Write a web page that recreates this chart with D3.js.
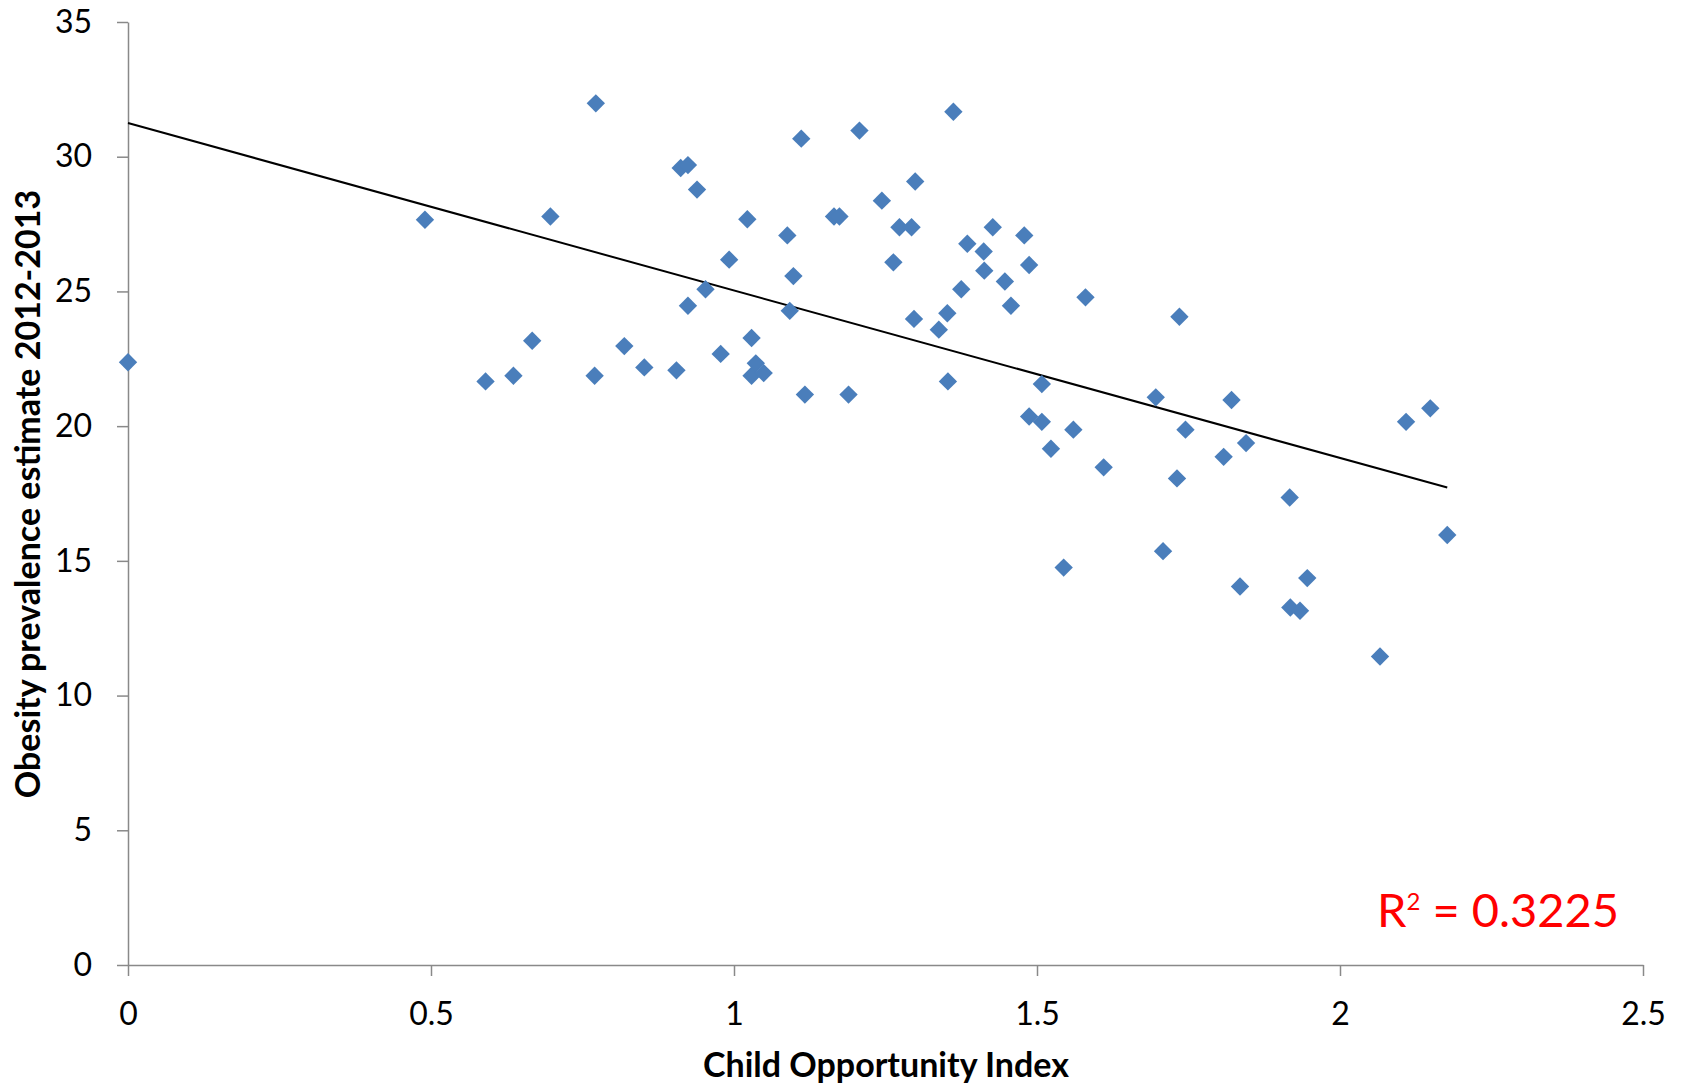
<!DOCTYPE html>
<html>
<head>
<meta charset="utf-8">
<script src="https://cdn.jsdelivr.net/npm/d3@7"></script>
<style>
  html, body { margin: 0; padding: 0; background: #ffffff; }
  svg { display: block; }
  .axis text { font-family: Lato, "Open Sans", sans-serif; font-size: 32px; fill: #000; }
  .axis path, .axis line { stroke: #898989; stroke-width: 1.5px; }
</style>
</head>
<body>
<svg id="chart" width="1685" height="1087"></svg>
<script>
// Child Opportunity Index per area
const opportunityIndex = [
  0.000, 0.490, 0.590, 0.636, 0.667, 0.697, 0.772, 0.770, 0.819, 0.852,
  0.905, 0.912, 0.924, 0.939, 0.924, 0.953, 0.978, 0.992, 1.022, 1.029,
  1.029, 1.036, 1.049, 1.088, 1.092, 1.098, 1.111, 1.117, 1.165, 1.174,
  1.189, 1.207, 1.244, 1.263, 1.273, 1.293, 1.297, 1.299, 1.338, 1.352,
  1.353, 1.362, 1.375, 1.385, 1.412, 1.413, 1.427, 1.447, 1.457, 1.479,
  1.487, 1.487, 1.508, 1.508, 1.523, 1.544, 1.560, 1.580, 1.610, 1.696,
  1.708, 1.731, 1.735, 1.745, 1.808, 1.821, 1.835, 1.845, 1.917, 1.918,
  1.934, 1.946, 2.066, 2.109, 2.149, 2.177
];

// Obesity prevalence estimate 2012-2013 (%) for the same areas
const obesityPrevalence = [
  22.37, 27.66, 21.66, 21.87, 23.17, 27.78, 31.98, 21.87, 22.97, 22.18,
  22.07, 29.58, 29.69, 28.78, 24.47, 25.08, 22.68, 26.18, 27.68, 23.27,
  21.87, 22.33, 21.97, 27.08, 24.28, 25.57, 30.67, 21.17, 27.78, 27.78,
  21.17, 30.97, 28.37, 26.08, 27.38, 27.38, 23.98, 29.08, 23.58, 24.19,
  21.66, 31.67, 25.08, 26.77, 26.48, 25.77, 27.38, 25.37, 24.47, 27.08,
  25.98, 20.36, 21.56, 20.16, 19.16, 14.75, 19.87, 24.78, 18.47, 21.07,
  15.36, 18.06, 24.06, 19.87, 18.86, 20.97, 14.05, 19.37, 17.35, 13.27,
  13.15, 14.36, 11.45, 20.16, 20.66, 15.96
];

// Linear trendline and its fit statistic
const trendIntercept = 31.25;
const trendSlope = -6.215;
const rSquared = "0.3225";

// Axis ticks
const xTicks = [0, 0.5, 1, 1.5, 2, 2.5];
const yTicks = [0, 5, 10, 15, 20, 25, 30, 35];

const xTitle = "Child Opportunity Index";
const yTitle = "Obesity prevalence estimate 2012-2013";

const svg = d3.select("#chart");
const font = "Lato, 'Open Sans', sans-serif";

const x = d3.scaleLinear().domain([0, 2.5]).range([128, 1643]);
const y = d3.scaleLinear().domain([0, 35]).range([965, 22]);

// Axes
svg.append("g")
  .attr("class", "axis")
  .attr("transform", `translate(0,${y(0)})`)
  .call(d3.axisBottom(x).tickValues(xTicks).tickFormat(d3.format("~g"))
    .tickSize(11).tickSizeOuter(0).tickPadding(26));

svg.append("g")
  .attr("class", "axis")
  .attr("transform", `translate(${x(0)},0)`)
  .call(d3.axisLeft(y).tickValues(yTicks).tickFormat(d3.format("~g"))
    .tickSize(11).tickSizeOuter(0).tickPadding(25));

// Trendline across the observed range of the index
const [xMin, xMax] = d3.extent(opportunityIndex);
svg.append("line")
  .attr("x1", x(xMin)).attr("y1", y(trendIntercept + trendSlope * xMin))
  .attr("x2", x(xMax)).attr("y2", y(trendIntercept + trendSlope * xMax))
  .attr("stroke", "#000").attr("stroke-width", 2);

// Diamond markers
const points = opportunityIndex.map((v, i) => ({ cx: v, cy: obesityPrevalence[i] }));
const diamond = d3.symbol().type(d3.symbolDiamond2).size(215);
svg.append("g")
  .selectAll("path")
  .data(points)
  .join("path")
  .attr("d", diamond)
  .attr("transform", d => `translate(${x(d.cx)},${y(d.cy)})`)
  .attr("fill", "#4A7EBB");

// R² annotation
const r2 = svg.append("text")
  .attr("x", 1377).attr("y", 927)
  .attr("font-family", font)
  .attr("font-size", 47)
  .attr("fill", "#FF0000");
r2.append("tspan").text("R");
r2.append("tspan").attr("font-size", 24).attr("dy", -17).text("2");
r2.append("tspan").attr("dy", 17).text(" = " + rSquared);

// Axis titles
svg.append("text")
  .attr("x", 886).attr("y", 1077)
  .attr("text-anchor", "middle")
  .attr("font-family", font)
  .attr("font-weight", "bold")
  .attr("font-size", 34)
  .text(xTitle);

svg.append("text")
  .attr("transform", "translate(40,494) rotate(-90)")
  .attr("text-anchor", "middle")
  .attr("font-family", font)
  .attr("font-weight", "bold")
  .attr("font-size", 34)
  .text(yTitle);
</script>
</body>
</html>
